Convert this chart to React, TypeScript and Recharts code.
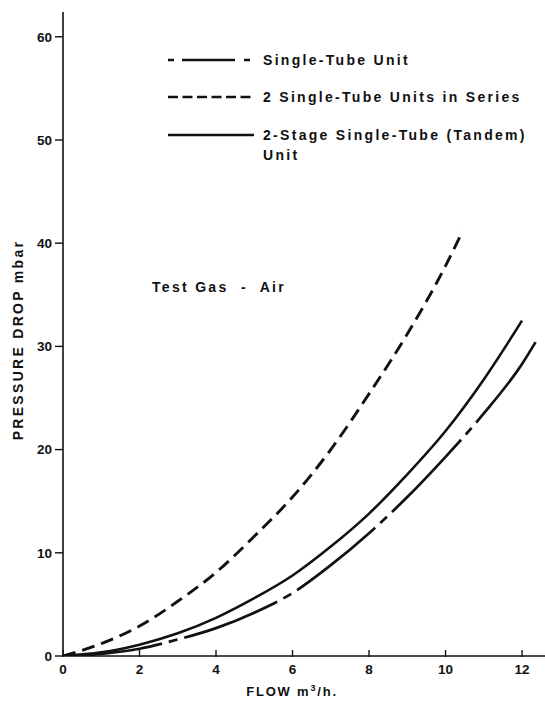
import { Line, LineChart, XAxis, YAxis } from 'recharts'

const xTicks = [0, 2, 4, 6, 8, 10, 12]
const yTicks = [0, 10, 20, 30, 40, 50, 60]

// Single-tube unit (dash-dot curve)
const singleFlow = [0, 1, 2, 3, 4, 5, 6, 7, 8, 9, 10, 11, 12, 12.4]
const singleDrop = [0, 0.2, 0.7, 1.6, 2.7, 4.2, 6.1, 8.8, 11.9, 15.4, 19.3, 23.5, 28.3, 30.7]

// 2 single-tube units in series (dashed curve)
const seriesFlow = [0, 1, 2, 3, 4, 5, 6, 7, 8, 9, 10, 10.45]
const seriesDrop = [0, 1.2, 2.9, 5.3, 8.1, 11.6, 15.4, 20.0, 25.4, 31.2, 37.8, 41.2]

// 2-stage single-tube (tandem) unit (solid curve)
const tandemFlow = [0, 1, 2, 3, 4, 5, 6, 7, 8, 9, 10, 11, 12]
const tandemDrop = [0, 0.35, 1.1, 2.2, 3.7, 5.6, 7.8, 10.6, 13.8, 17.6, 21.8, 26.8, 32.5]

const legendLabels = ['Single-Tube Unit', '2 Single-Tube Units in Series', '2-Stage Single-Tube (Tandem)']

const toPoints = (xs: number[], ys: number[]) => xs.map((flow, i) => ({ flow, drop: ys[i] }))

const singleData = toPoints(singleFlow, singleDrop)
const seriesData = toPoints(seriesFlow, seriesDrop)
const tandemData = toPoints(tandemFlow, tandemDrop)

const INK = '#111'
const FONT = '"Liberation Sans", Arial, Helvetica, sans-serif'

const dashDot = '100 7 9 7'
const dashed = '13 7'

const textStyle = { fontSize: 14, fontWeight: 700, letterSpacing: 2.3, whiteSpace: 'pre' as const }

function FlowTick(props: any) {
  const { x, y, payload } = props
  return (
    <g>
      <line x1={x} x2={x} y1={y - 6} y2={y + 1} stroke={INK} strokeWidth={1.4} />
      <text x={x} y={y + 18} textAnchor="middle" fill={INK} fontSize={13.5} fontWeight={700} fontFamily={FONT}>
        {payload.value}
      </text>
    </g>
  )
}

function LegendRow({ top, dash, label, extra }: { top: number; dash?: string; label: string; extra?: string }) {
  return (
    <div style={{ position: 'absolute', left: 166, top, display: 'flex', alignItems: 'flex-start' }}>
      <svg width={90} height={6} style={{ display: 'block', marginTop: 7 }}>
        <line x1={2} x2={88} y1={3} y2={3} stroke={INK} strokeWidth={2.6} strokeDasharray={dash} />
      </svg>
      <span style={{ ...textStyle, marginLeft: 7, lineHeight: '20px' }}>
        {label}
        {extra ? '\n' + extra : null}
      </span>
    </div>
  )
}

export default function App() {
  return (
    <div
      style={{
        position: 'absolute',
        left: 0,
        top: 0,
        width: 545,
        height: 706,
        overflow: 'hidden',
        background: '#fff',
        color: INK,
        fontFamily: FONT,
      }}
    >
      <LineChart width={545} height={706} margin={{ top: 12, right: 0, bottom: 0, left: 0 }}>
        <XAxis
          type="number"
          dataKey="flow"
          domain={[0, 12.6]}
          ticks={xTicks}
          height={50}
          tickSize={0}
          tickMargin={0}
          tickLine={false}
          axisLine={{ stroke: INK, strokeWidth: 1.6 }}
          tick={<FlowTick />}
          allowDataOverflow
        />
        <YAxis
          type="number"
          dataKey="drop"
          domain={[0, 62.4]}
          ticks={yTicks}
          width={63}
          tickSize={8}
          tickMargin={3}
          tickLine={{ stroke: INK, strokeWidth: 1.4 }}
          axisLine={{ stroke: INK, strokeWidth: 1.6 }}
          tick={{ fill: INK, fontSize: 13.5, fontWeight: 700, fontFamily: FONT }}
          allowDataOverflow
        />
        <Line
          data={singleData}
          dataKey="drop"
          name={legendLabels[0]}
          type="monotone"
          stroke={INK}
          strokeWidth={2.7}
          strokeDasharray={dashDot}
          dot={false}
          isAnimationActive={false}
        />
        <Line
          data={seriesData}
          dataKey="drop"
          name={legendLabels[1]}
          type="monotone"
          stroke={INK}
          strokeWidth={2.9}
          strokeDasharray={dashed}
          dot={false}
          isAnimationActive={false}
        />
        <Line
          data={tandemData}
          dataKey="drop"
          name={legendLabels[2]}
          type="monotone"
          stroke={INK}
          strokeWidth={2.6}
          dot={false}
          isAnimationActive={false}
        />
      </LineChart>

      <LegendRow top={50} dash="6 8 53 9 6 40" label={legendLabels[0]} />
      <LegendRow top={87} dash="10 4.5" label={legendLabels[1]} />
      <LegendRow top={125} label={legendLabels[2]} extra="Unit" />

      <div style={{ ...textStyle, position: 'absolute', left: 152, top: 279 }}>
        {'Test Gas  -  Air'}
      </div>

      <div
        style={{
          ...textStyle,
          position: 'absolute',
          left: 18,
          top: 340,
          transform: 'translate(-50%, -50%) rotate(-90deg)',
        }}
      >
        PRESSURE DROP mbar
      </div>

      <div
        style={{
          position: 'absolute',
          left: 292,
          top: 691,
          transform: 'translate(-50%, -50%)',
          fontSize: 13,
          fontWeight: 700,
          letterSpacing: 1.8,
          whiteSpace: 'nowrap',
        }}
      >
        FLOW m<sup style={{ fontSize: 9 }}>3</sup>/h.
      </div>
    </div>
  )
}
